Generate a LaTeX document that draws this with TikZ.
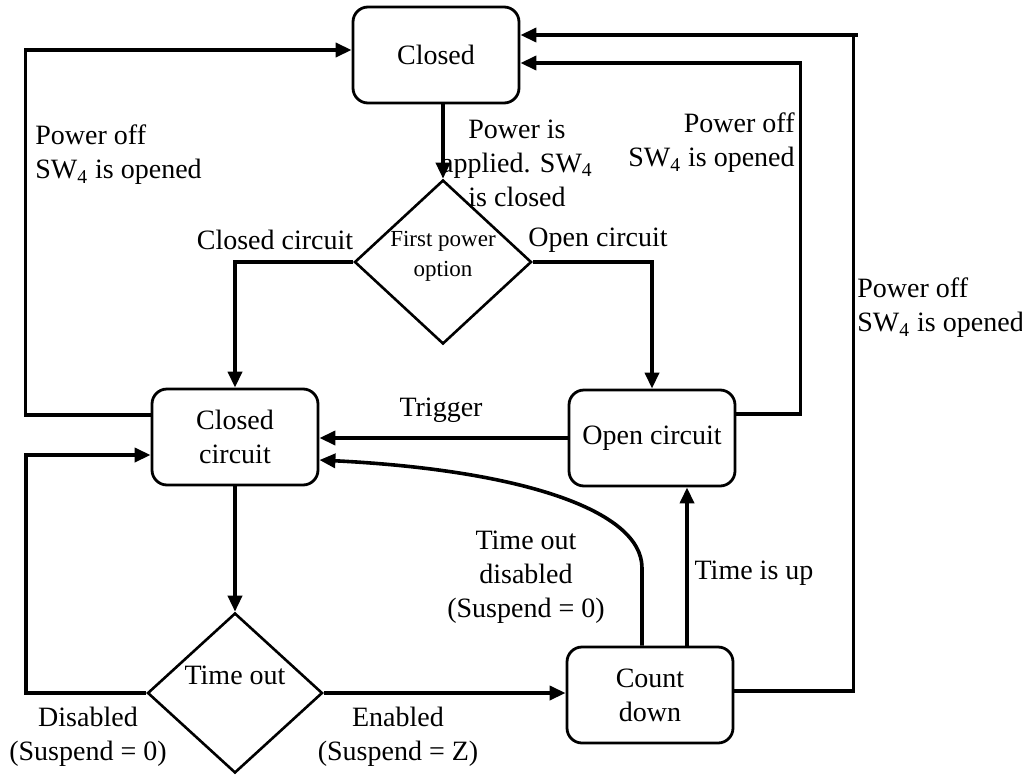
\documentclass[tikz,border=0pt]{standalone}
\usepackage{fontspec}
\setmainfont{Liberation Serif}
\usepackage{tikz}
\usetikzlibrary{arrows.meta,shapes.geometric}
\usetikzlibrary{positioning}
\tikzset{
    state/.style={
           rectangle,
           rounded corners=7.5pt,
           draw=black, line width=1.4pt,
           minimum width=83pt,
           minimum height=48pt,
           inner sep=2pt,
           align=center,
           },
    choice/.style={
           diamond,
           draw=black, line width=1.3pt,
           inner sep=0pt,
           },
    conn/.style={
           ->, line width=1.8pt,
           },
    lbl/.style={
           align=center,
           inner sep=0pt,
           },
}

\begin{document}
\begin{tikzpicture}[x=0.5pt,y=-0.5pt,
  >={Triangle[length=8pt,width=7pt]},
  font=\fontsize{14}{17}\selectfont]

 % fixed frame, 1 unit = 1 pixel of the original
 \useasboundingbox (0,0) rectangle (1022,776);

 % STATES
 \node[state] (Closed) at (436,55) {Closed};
 \node[choice,minimum width=88.5pt,minimum height=82pt,
  label={[yshift=3pt,font=\fontsize{11.5}{15}\selectfont,align=center]center:First power\\option}]
  (First Power) at (443,262) {};
 \node[state] (Closed Circuit) at (235,437) {Closed\\circuit};
 \node[state] (Open Circuit) at (652,438) {Open circuit};
 \node[choice,minimum width=87.5pt,minimum height=80pt,
  label={[yshift=9pt]center:Time out}]
  (Time Out) at (235,693) {};
 \node[state] (Count Down) at (650,695) {Count\\down};

 % draw the paths
 \draw[conn] (Closed.south -| First Power.north) -- (First Power.north);
 \node[lbl] (applied) at (517,163) {Power is\\applied. SW\textsubscript{4}\\is closed};

 \draw[conn] (First Power.west) -| (Closed Circuit.north);
 \node[lbl] (cc label) at (275,240) {Closed circuit};
 \draw[conn] (First Power.east) -| (Open Circuit.north);
 \node[lbl] (oc label) at (598,240) {Open circuit};

 \draw[conn] (Open Circuit.west) -- (Open Circuit.west -| Closed Circuit.east);
 \node[lbl] (trigger) at (441,410) {Trigger};

 \draw[conn] (Closed Circuit) -- (Time Out);

 % Time out disabled / enabled
 \draw[conn] (Time Out.west) -- ++(-60pt,0) |- ([yshift=-9pt]Closed Circuit.west);
 \node[lbl] (disabled) at (88,737) {Disabled\\(Suspend = 0)};
 \draw[conn] (Time Out.east) -- (Time Out.east -| Count Down.west);
 \node[lbl] (enabled) at (398,737) {Enabled\\(Suspend = Z)};

 % back from Count down
 \draw[conn] ([xshift=18.5pt]Count Down.north) -- ([xshift=18.5pt]Count Down.north |- Open Circuit.south);
 \node[lbl] (up) at (754,573) {Time is up};
 \draw[conn] ([xshift=-4pt]Count Down.north) -- (642,568)
  .. controls (642,510) and (520,470) .. ([yshift=-11.5pt]Closed Circuit.east);
 \node[lbl] (tod) at (526,577) {Time out\\disabled\\(Suspend = 0)};

 % power off loops to Closed
 \draw[conn] ([yshift=11pt]Closed Circuit.west) -- ++(-62.5pt,0) |- ([yshift=2.5pt]Closed.west);
 \node[lbl,anchor=west,align=left] (off left) at (35,155) {Power off\\SW\textsubscript{4} is opened};
 \draw[conn] ([yshift=12pt]Open Circuit.east) -- ++(32pt,0) |- ([yshift=-4pt]Closed.east);
 \node[lbl,anchor=east,align=right] (off mid) at (795,143) {Power off\\SW\textsubscript{4} is opened};
 \draw[conn] ([yshift=2pt]Count Down.east) -- ++(59.5pt,0) |- ([yshift=10pt]Closed.east);
 \draw[line width=1.8pt] ([yshift=10pt]Closed.east -| Count Down.east) ++(119,0) -- ++(2.5pt,0);
 \node[lbl,anchor=west,align=left] (off right) at (857,308) {Power off\\SW\textsubscript{4} is opened};
\end{tikzpicture}
\end{document}
